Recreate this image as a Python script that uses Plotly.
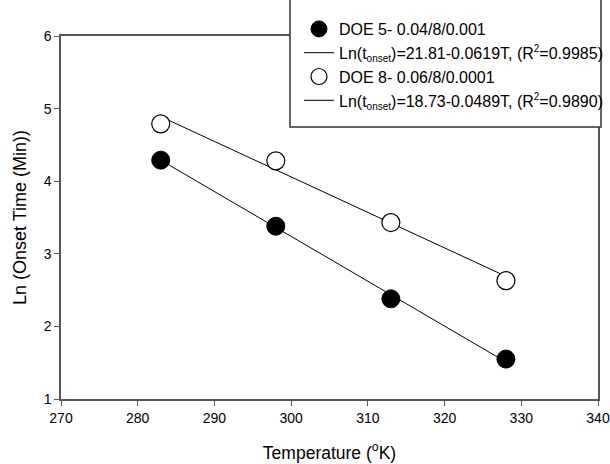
import plotly.graph_objects as go

# Data
temps = [283, 298, 313, 328]
doe5_ln = [4.29, 3.38, 2.38, 1.55]
doe8_ln = [4.79, 4.28, 3.43, 2.63]

fit_x = [283, 328]
fit5_y = [4.29, 1.51]   # Ln(t)=21.81-0.0619T
fit8_y = [4.89, 2.69]   # Ln(t)=18.73-0.0489T

SUB = "<sub><span style='font-size:10px'>onset</span></sub>"
SUP = "<sup><span style='font-size:10px'>2</span></sup>"
names = [
    "DOE 5- 0.04/8/0.001",
    f"Ln(t{SUB})=21.81-0.0619T, (R{SUP}=0.9985)",
    "DOE 8- 0.06/8/0.0001",
    f"Ln(t{SUB})=18.73-0.0489T, (R{SUP}=0.9890)",
]

FONT = "Arial, 'Liberation Sans', sans-serif"

fig = go.Figure()
fig.add_trace(go.Scatter(x=fit_x, y=fit5_y, mode="lines", name=names[1],
                         line=dict(color="black", width=1), legendrank=2))
fig.add_trace(go.Scatter(x=fit_x, y=fit8_y, mode="lines", name=names[3],
                         line=dict(color="black", width=1), legendrank=4))
fig.add_trace(go.Scatter(x=temps, y=doe5_ln, mode="markers", name=names[0],
                         marker=dict(symbol="circle", size=18, color="black",
                                     line=dict(color="black", width=1)),
                         legendrank=1))
fig.add_trace(go.Scatter(x=temps, y=doe8_ln, mode="markers", name=names[2],
                         marker=dict(symbol="circle", size=18, color="white",
                                     line=dict(color="black", width=1.2)),
                         legendrank=3))

axis_common = dict(
    showline=True, linecolor="#555", linewidth=1.5, mirror=True,
    ticks="outside", ticklen=5, tickwidth=1.2, tickcolor="#555",
    showgrid=False, zeroline=False,
    tickfont=dict(family=FONT, size=14, color="black"),
)

# legend frame (pixel box 290..601 x -2..127 converted to paper coords)
plot_l, plot_r, plot_t, plot_b = 61, 598, 36, 399
pw, ph = plot_r - plot_l, plot_b - plot_t
box = dict(x0=(290 - plot_l) / pw, x1=(601 - plot_l) / pw,
           y0=(plot_b - 127) / ph, y1=(plot_b + 2) / ph)

fig.update_layout(
    width=610, height=464,
    margin=dict(l=61, r=12, t=36, b=65, autoexpand=False),
    paper_bgcolor="white", plot_bgcolor="white",
    font=dict(family=FONT, size=14, color="black"),
    xaxis=dict(range=[270, 340], dtick=10, tick0=270,
               title=dict(text="Temperature (<sup>o</sup>K)", standoff=22,
                          font=dict(family=FONT, size=17.5)),
               **axis_common),
    yaxis=dict(range=[1, 6], dtick=1, tick0=1,
               title=dict(text="Ln (Onset Time (Min))", standoff=12,
                          font=dict(family=FONT, size=18)),
               **axis_common),
    shapes=[dict(type="rect", xref="paper", yref="paper", layer="above",
                 line=dict(color="#333", width=1.5), fillcolor="white", **box)],
    legend=dict(x=(299 - plot_l) / pw, y=(plot_b - 12) / ph,
                xanchor="left", yanchor="top",
                bgcolor="rgba(0,0,0,0)", borderwidth=0,
                font=dict(family=FONT, size=16, color="black"),
                traceorder="normal", itemwidth=30),
    showlegend=True,
)

fig.write_html("out.html")
